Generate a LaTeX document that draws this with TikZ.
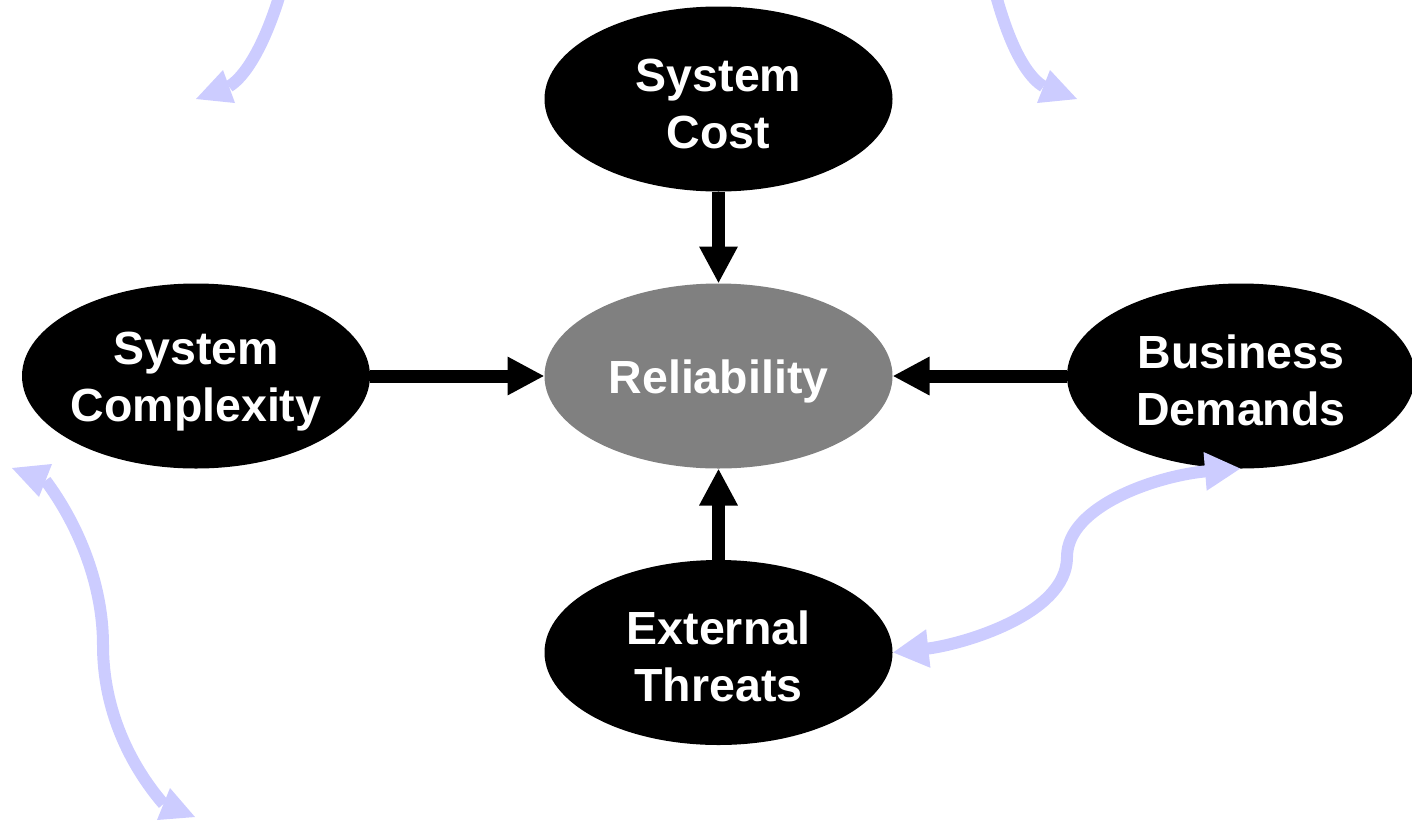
\documentclass[tikz,border=0pt]{standalone}
\usepackage{fontspec}
\setmainfont{Liberation Sans}
\usetikzlibrary{shapes.geometric,arrows.meta}
\definecolor{lav}{HTML}{CCCCFF}
\definecolor{midgray}{HTML}{808080}
% fixed line box so every label line sits at the same height
\newcommand\lnstrut{\rule[-3pt]{0pt}{47pt}}
\begin{document}
\begin{tikzpicture}[x=1pt,y=-1pt,
  factor/.style={ellipse,fill=black,text=white,minimum width=348pt,minimum height=185pt,
    inner xsep=-6pt,inner ysep=0pt,outer sep=0pt,align=center,
    font=\fontsize{46.5}{57}\selectfont\bfseries},
  core/.style={factor,fill=midgray},
  push/.style={draw=black,line width=13pt,-{Triangle[length=37pt,width=36pt]}},
  link/.style={draw=lav,line width=12pt,{Triangle[length=36pt,width=36pt]}-{Triangle[length=36pt,width=36pt]}},
  swirl/.style={draw=lav,line width=12pt},
  swirlhead/.style={fill=lav}]
\useasboundingbox (0,0) rectangle (1412,822);

% factors around the central quality
\node[core]   (rel)  at (718.5,376) {\lnstrut Reliability};
\node[factor] (cost) at (718.5,99)  {\lnstrut System\\\lnstrut Cost};
\node[factor] (cplx) at (196,376)   {\lnstrut System\\\lnstrut Complexity};
\node[factor] (biz)  at (1241,376)  {\lnstrut Business\\\lnstrut Demands};
\node[factor] (ext)  at (718.5,652.5) {\lnstrut External\\\lnstrut Threats};

% influences on reliability
\draw[push] (cost) -- (rel);
\draw[push] (cplx) -- (rel);
\draw[push] (biz)  -- (rel);
\draw[push] (ext)  -- (rel);

% two-way link between threats and business demands
\draw[link] (ext.east) .. controls (960,645) and (1067,615) .. (1067,557)
            .. controls (1067,505) and (1160,475) .. (biz.south);

% loose curved arrows
\coordinate (tlA) at (284,-20);
\coordinate (tlB) at (229,86.5);
\coordinate (tlT) at (196,99);
\draw[swirl] (tlA) .. controls (272,25) and (252,72) .. (tlB);
\fill[swirlhead] (tlT) -- (223,70) -- (235,103) -- cycle;

\coordinate (trA) at (992,-20);
\coordinate (trB) at (1043.5,86.5);
\coordinate (trT) at (1077,99);
\draw[swirl] (trA) .. controls (1003,25) and (1020,72) .. (trB);
\fill[swirlhead] (trT) -- (1050,70) -- (1037,103) -- cycle;

\coordinate (blA) at (45.5,480.5);
\coordinate (blM) at (103,645);
\coordinate (blB) at (163.5,804);
\draw[swirl] (blA) .. controls (75,520) and (103,580) .. (blM)
             .. controls (103,710) and (130,765) .. (blB);
\fill[swirlhead] (12,468) -- (52,464) -- (39,497) -- cycle;
\fill[swirlhead] (195,817) -- (170,788) -- (157,820) -- cycle;
\end{tikzpicture}
\end{document}
